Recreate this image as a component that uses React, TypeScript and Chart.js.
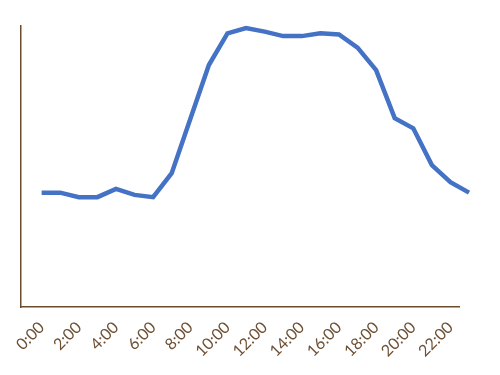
import React, { useEffect, useRef } from "react";
import { Chart, registerables } from "chart.js";

Chart.register(...registerables);

const hours: string[] = [
  "0:00", "1:00", "2:00", "3:00", "4:00", "5:00", "6:00", "7:00",
  "8:00", "9:00", "10:00", "11:00", "12:00", "13:00", "14:00", "15:00",
  "16:00", "17:00", "18:00", "19:00", "20:00", "21:00", "22:00", "23:00",
];
const values: number[] = [
  40.7, 40.7, 39.1, 39.1, 42.0, 39.9, 39.1, 47.6,
  66.9, 86.1, 97.4, 99.3, 98.0, 96.4, 96.4, 97.4,
  97.0, 92.3, 84.3, 67.2, 63.6, 50.5, 44.4, 40.7,
];

const AXIS = "#6B4C2E";
const LABEL = "#6E5034";
const LINE = "#4472C4";

export default function App() {
  const ref = useRef<HTMLCanvasElement | null>(null);
  useEffect(() => {
    if (!ref.current) return;
    const chart = new Chart(ref.current, {
      type: "line",
      data: {
        datasets: [
          {
            data: values.map((v, i) => ({ x: i, y: v })),
            borderColor: LINE,
            borderWidth: 4.5,
            pointRadius: 0,
            tension: 0,
            fill: false,
            clip: false as any,
          },
        ],
      },
      options: {
        animation: false,
        responsive: false,
        maintainAspectRatio: false,
        layout: { padding: { left: 21, top: 26, right: 41, bottom: 0 } },
        plugins: { legend: { display: false }, tooltip: { enabled: false } },
        scales: {
          x: {
            type: "linear",
            min: -1.11,
            max: 22.46,
            afterBuildTicks: (scale: any) => {
              scale.ticks = hours
                .map((_, i) => ({ value: i }))
                .filter((t) => t.value % 2 === 0);
            },
            afterFit: (scale: any) => {
              scale.height = 68;
            },
            grid: { display: false, drawTicks: false },
            border: { display: true, color: AXIS, width: 1.5 },
            ticks: {
              autoSkip: false,
              maxRotation: 45,
              minRotation: 45,
              padding: 11,
              color: LABEL,
              font: { family: "Lato", size: 16, weight: "normal" as any },
              callback: (v: any) => hours[Number(v)] ?? "",
            },
          },
          y: {
            min: 0,
            max: 100,
            afterFit: (scale: any) => {
              scale.width = 0;
            },
            grid: { display: false, drawTicks: false },
            border: { display: true, color: AXIS, width: 1.5 },
            ticks: { display: false },
          },
        },
      },
    });
    return () => chart.destroy();
  }, []);
  return (
    <div style={{ position: "absolute", left: 0, top: 0, width: 500, height: 375, background: "#fff" }}>
      <canvas ref={ref} width={500} height={375} />
    </div>
  );
}
